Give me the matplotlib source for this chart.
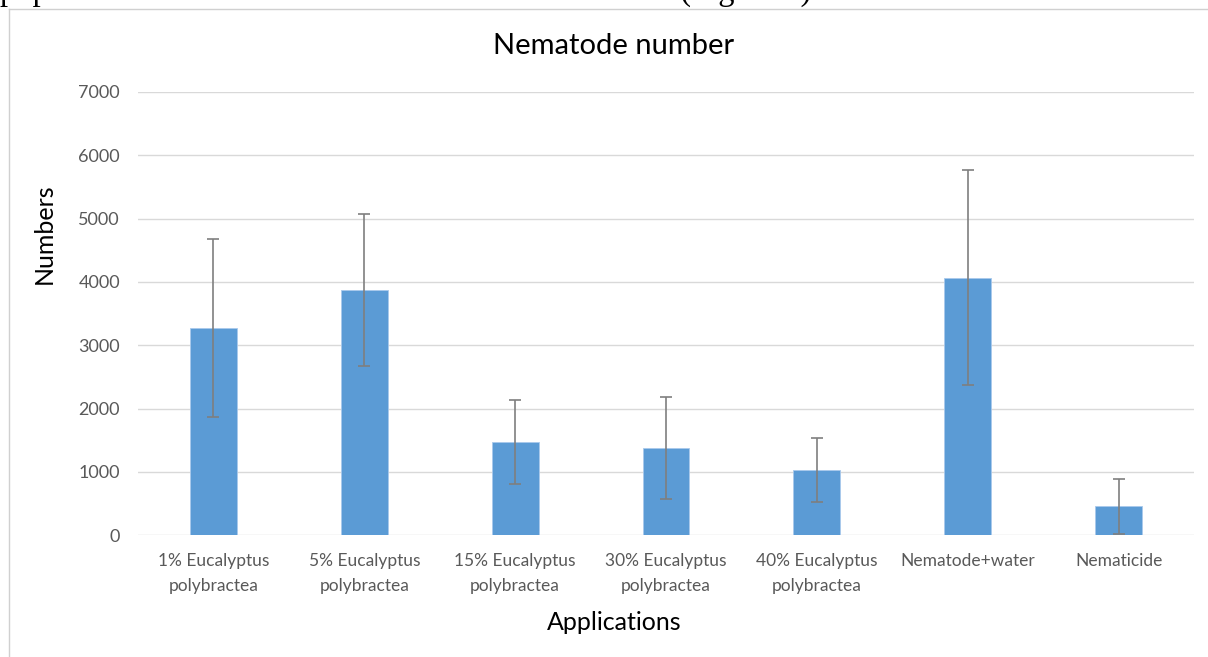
import numpy as np
import matplotlib
matplotlib.use("Agg")
import matplotlib.pyplot as plt
from matplotlib.lines import Line2D

# data
categories = ["1% Eucalyptus\npolybractea", "5% Eucalyptus\npolybractea",
              "15% Eucalyptus\npolybractea", "30% Eucalyptus\npolybractea",
              "40% Eucalyptus\npolybractea", "Nematode+water", "Nematicide"]
means = [3270, 3870, 1470, 1375, 1032, 4070, 455]
errors = [1405, 1200, 665, 805, 500, 1700, 430]
yticks = [0, 1000, 2000, 3000, 4000, 5000, 6000, 7000]

plt.rcParams['font.family'] = ['Lato', 'DejaVu Sans']

fig = plt.figure(figsize=(12.08, 6.57), dpi=100)
ax = fig.add_axes([138 / 1208, 1 - 535.3 / 657, 1056 / 1208, 443.3 / 657])

x = np.arange(len(categories))
ax.bar(x, means, width=0.31, color='#5B9BD5', edgecolor='#A9C9EC', linewidth=0.6, zorder=2)
ax.errorbar(x, means, yerr=errors, fmt='none', ecolor='#7F7F7F',
            elinewidth=1.2, capsize=4, capthick=1.2, zorder=3)

ax.set_xlim(-0.5, len(categories) - 0.5)
ax.set_ylim(0, 7000)
ax.set_yticks(yticks)
ax.set_xticks(x)
ax.set_xticklabels(categories, fontsize=12.5, color='#595959', linespacing=1.7)
ax.tick_params(axis='y', labelsize=13, labelcolor='#595959', length=0, pad=13)
ax.tick_params(axis='x', length=0, pad=13)
ax.grid(axis='y', color='#D9D9D9', linewidth=1, zorder=0)
for s in ax.spines.values():
    s.set_visible(False)

ax.set_ylabel("Numbers", fontsize=18)
ax.yaxis.set_label_coords(-0.078, 0.68)
fig.text(614 / 1208, 1 - 622 / 657, "Applications", fontsize=18, ha='center', va='center')
fig.text(614 / 1208, 1 - 46 / 657, "Nematode number", fontsize=21, ha='center', va='center')

# page frame and cut-off sentence above the chart
fig.add_artist(Line2D([8.5 / 1208, 1], [1 - 8.5 / 657, 1 - 8.5 / 657], color='#D0D0D0', linewidth=1))
fig.add_artist(Line2D([8.5 / 1208, 8.5 / 1208], [0, 1 - 8.5 / 657], color='#D0D0D0', linewidth=1))
fig.text(0.0, 1.0, "population was observed in the nematode treatment (Figure 3).",
         fontsize=23.5, family='Liberation Serif', ha='left', va='baseline')

fig.savefig("out.png", dpi=100)
